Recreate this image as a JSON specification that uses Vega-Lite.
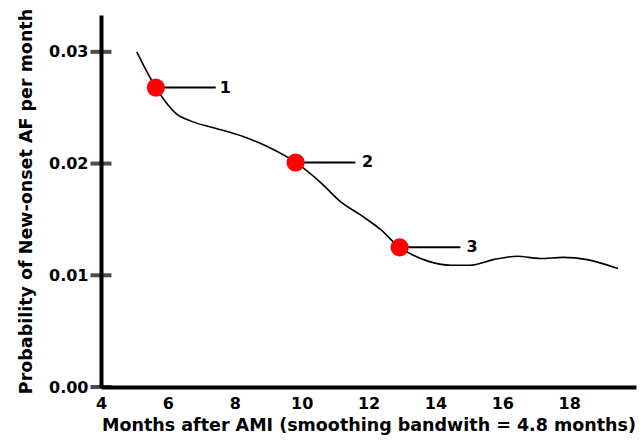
{
  "$schema": "https://vega.github.io/schema/vega-lite/v6.json",
  "width": 535,
  "height": 372,
  "autosize": {"type": "none"},
  "padding": {"left": 101, "top": 15, "right": 6, "bottom": 54},
  "background": "white",
  "config": {
    "view": {"stroke": null},
    "font": "DejaVu Sans",
    "axis": {
      "grid": false,
      "domainColor": "black",
      "domainWidth": 4,
      "labelColor": "black",
      "labelFont": "DejaVu Sans",
      "labelFontWeight": "bold",
      "labelFontSize": 16,
      "titleFont": "DejaVu Sans",
      "titleFontWeight": "bold",
      "titleFontSize": 17.5,
      "titleColor": "black"
    }
  },
  "datasets": {
    "curve": [
      {"m": 5.07, "p": 0.0300},
      {"m": 5.34, "p": 0.0284},
      {"m": 5.64, "p": 0.0268},
      {"m": 5.94, "p": 0.0255},
      {"m": 6.24, "p": 0.0245},
      {"m": 6.69, "p": 0.0238},
      {"m": 7.37, "p": 0.0232},
      {"m": 8.27, "p": 0.0224},
      {"m": 8.99, "p": 0.0215},
      {"m": 9.82, "p": 0.0201},
      {"m": 10.57, "p": 0.0183},
      {"m": 11.16, "p": 0.0166},
      {"m": 11.76, "p": 0.0154},
      {"m": 12.36, "p": 0.0141},
      {"m": 12.93, "p": 0.0125},
      {"m": 13.34, "p": 0.0118},
      {"m": 13.85, "p": 0.0112},
      {"m": 14.45, "p": 0.0109},
      {"m": 15.04, "p": 0.0109},
      {"m": 15.73, "p": 0.0114},
      {"m": 16.45, "p": 0.0117},
      {"m": 17.13, "p": 0.0115},
      {"m": 17.82, "p": 0.0116},
      {"m": 18.54, "p": 0.0114},
      {"m": 19.46, "p": 0.0106}
    ],
    "marks": [
      {"m": 5.64, "p": 0.0268, "mend": 7.43, "lm": 7.72, "label": "1"},
      {"m": 9.82, "p": 0.0201, "mend": 11.61, "lm": 11.97, "label": "2"},
      {"m": 12.93, "p": 0.0125, "mend": 14.75, "lm": 15.10, "label": "3"}
    ],
    "yticks": [
      {"m": 4, "p": 0.0},
      {"m": 4, "p": 0.01},
      {"m": 4, "p": 0.02},
      {"m": 4, "p": 0.03}
    ]
  },
  "layer": [
    {
      "data": {"name": "curve"},
      "mark": {"type": "line", "color": "black", "strokeWidth": 1.6, "interpolate": "monotone"},
      "encoding": {
        "x": {
          "field": "m", "type": "quantitative",
          "scale": {"domain": [4, 20], "nice": false, "zero": false},
          "axis": {
            "title": "Months after AMI (smoothing bandwith = 4.8 months)",
            "values": [4, 6, 8, 10, 12, 14, 16, 18],
            "ticks": false,
            "labelPadding": 8,
            "titlePadding": 5,
            "labelFlush": false
          }
        },
        "y": {
          "field": "p", "type": "quantitative",
          "scale": {"domain": [0, 0.0333], "nice": false},
          "axis": {
            "title": "Probability of New-onset AF per month",
            "values": [0, 0.01, 0.02, 0.03],
            "format": ".2f",
            "ticks": false,
            "labelPadding": 13,
            "titlePadding": 13,
            "labelFlush": false
          }
        }
      }
    },
    {
      "data": {"name": "yticks"},
      "mark": {"type": "tick", "orient": "horizontal", "color": "black", "size": 21, "thickness": 4},
      "encoding": {
        "x": {"field": "m", "type": "quantitative"},
        "y": {"field": "p", "type": "quantitative"}
      }
    },
    {
      "data": {"name": "marks"},
      "mark": {"type": "rule", "color": "black", "strokeWidth": 2},
      "encoding": {
        "x": {"field": "m", "type": "quantitative"},
        "x2": {"field": "mend"},
        "y": {"field": "p", "type": "quantitative"}
      }
    },
    {
      "data": {"name": "marks"},
      "mark": {"type": "point", "filled": true, "color": "#ff0000", "opacity": 1, "size": 330},
      "encoding": {
        "x": {"field": "m", "type": "quantitative"},
        "y": {"field": "p", "type": "quantitative"}
      }
    },
    {
      "data": {"name": "marks"},
      "mark": {"type": "text", "color": "black", "fontSize": 16, "fontWeight": "bold", "font": "DejaVu Sans", "align": "center", "baseline": "middle"},
      "encoding": {
        "x": {"field": "lm", "type": "quantitative"},
        "y": {"field": "p", "type": "quantitative"},
        "text": {"field": "label"}
      }
    }
  ]
}
